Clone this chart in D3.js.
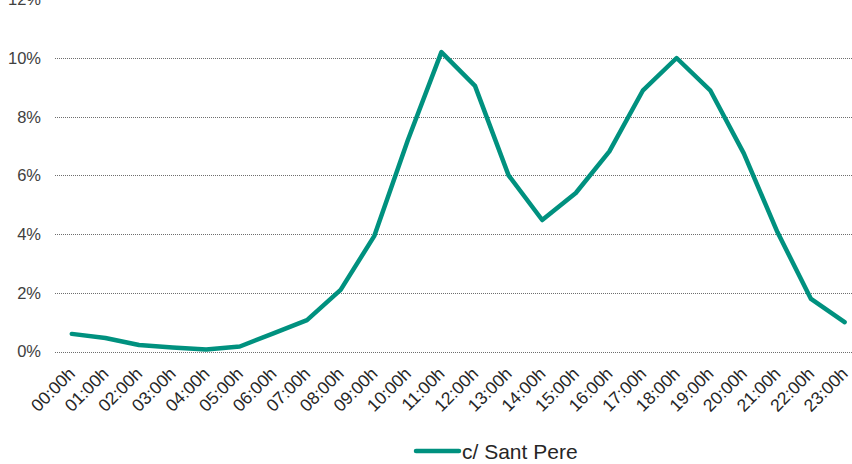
<!DOCTYPE html>
<html><head><meta charset="utf-8">
<script src="https://cdn.jsdelivr.net/npm/d3@7"></script>
<style>body{margin:0;background:#fff}svg{display:block}text{font-family:"Liberation Sans",Arial,sans-serif}</style>
</head><body><svg id="c" width="852" height="464"></svg>
<script>
const hours = ["00:00h","01:00h","02:00h","03:00h","04:00h","05:00h","06:00h","07:00h","08:00h","09:00h","10:00h","11:00h","12:00h","13:00h","14:00h","15:00h","16:00h","17:00h","18:00h","19:00h","20:00h","21:00h","22:00h","23:00h"];
const values = [0.60,0.46,0.22,0.14,0.07,0.17,0.62,1.07,2.10,3.93,7.20,10.20,9.05,6.00,4.48,5.40,6.82,8.90,10.00,8.90,6.75,4.07,1.79,1.00];
const yTicks = [0,2,4,6,8,10,12];
const seriesName = "c/ Sant Pere";

const svg = d3.select("#c");
const left = 55, right = 861.4, y0 = 351.5, y12 = -0.7;
const x = d3.scaleBand().domain(hours).range([left, right]);
const y = d3.scaleLinear().domain([0, 12]).range([y0, y12]);

const grid = svg.append("g");
yTicks.forEach(t => {
  grid.append("line").attr("x1", left).attr("x2", 852)
    .attr("y1", Math.round(y(t)) + 0.5).attr("y2", Math.round(y(t)) + 0.5)
    .attr("stroke", "#6e6e6e").attr("stroke-width", 1).attr("stroke-dasharray", "1,1");
  grid.append("text").attr("x", 41).attr("y", y(t)).attr("dy", "0.36em")
    .attr("text-anchor", "end").attr("font-size", 16.5).attr("fill", "#404040")
    .text(t + "%");
});

const xl = svg.append("g");
hours.forEach(h => {
  const cx = x(h) + x.bandwidth() / 2;
  xl.append("text").attr("transform", `translate(${cx},${y0 + 19}) rotate(-45)`)
    .attr("text-anchor", "end").attr("dy", "0.35em").attr("font-size", 17.5).attr("fill", "#262626")
    .text(h);
});

const line = d3.line().x((d, i) => x(hours[i]) + x.bandwidth() / 2).y(d => y(d));
svg.append("path").datum(values).attr("d", line).attr("fill", "none")
  .attr("stroke", "#00917f").attr("stroke-width", 4.5).attr("stroke-linejoin", "round").attr("stroke-linecap", "round");

svg.append("line").attr("x1", 416).attr("x2", 459).attr("y1", 451).attr("y2", 451)
  .attr("stroke", "#00917f").attr("stroke-width", 4.5).attr("stroke-linecap", "round");
svg.append("text").attr("x", 462).attr("y", 451).attr("dy", "0.36em").attr("font-size", 21)
  .attr("fill", "#262626").text(seriesName);
</script></body></html>
